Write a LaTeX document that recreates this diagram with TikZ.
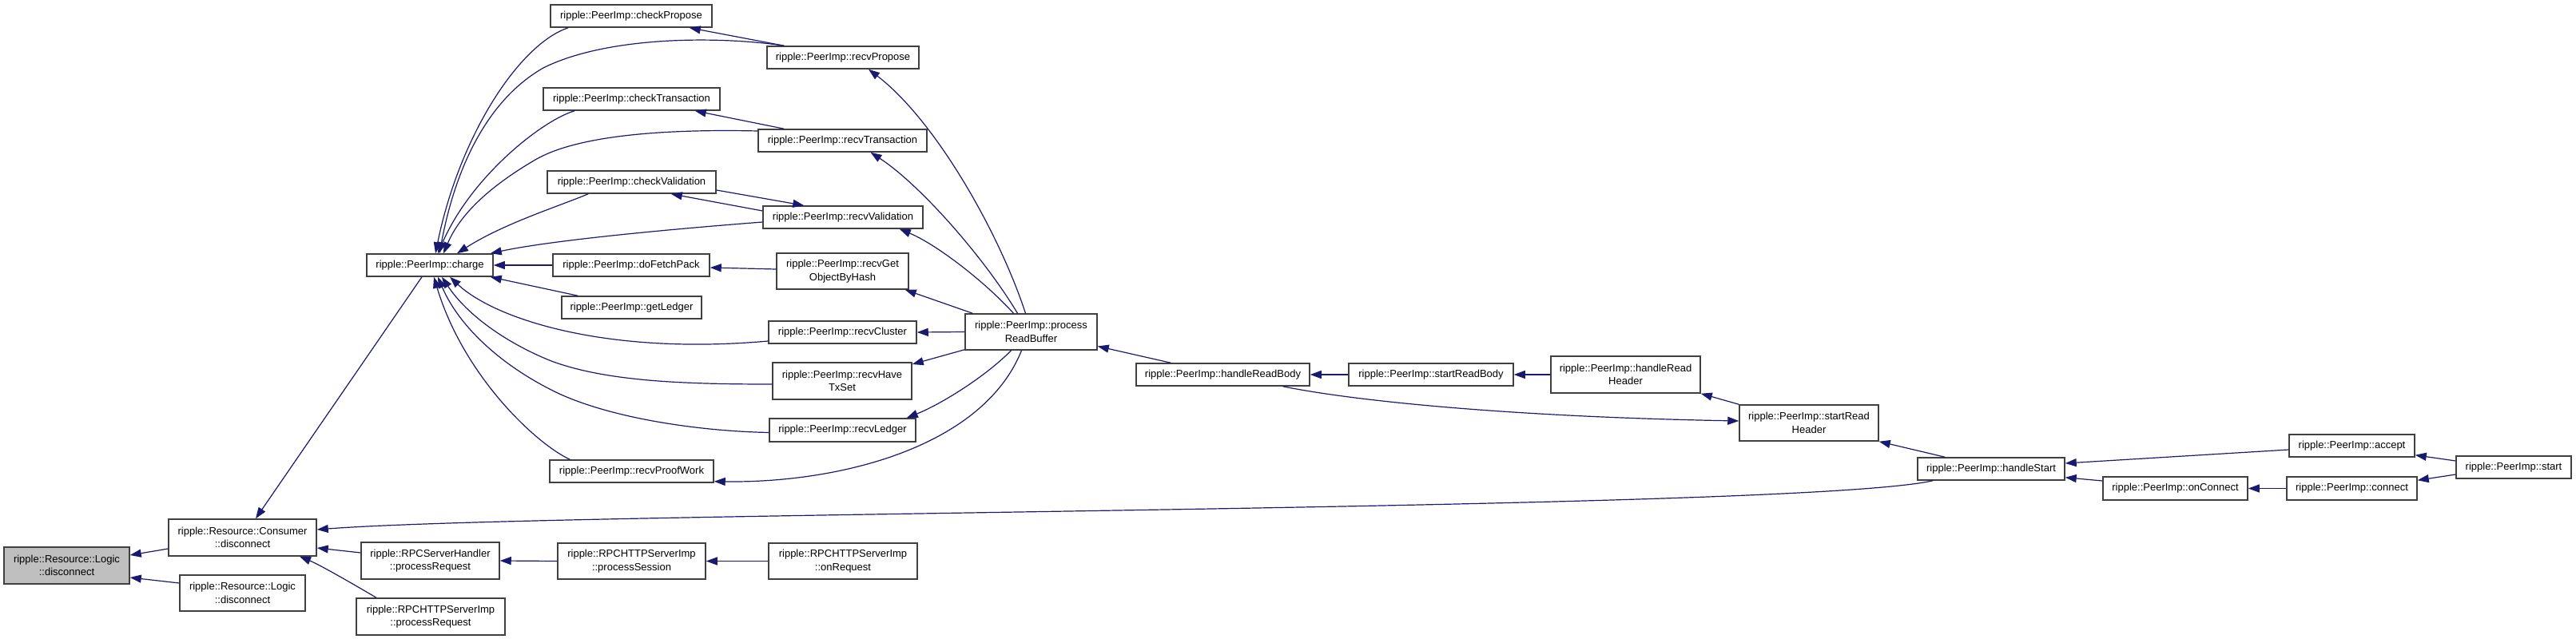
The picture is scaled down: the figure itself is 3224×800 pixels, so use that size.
\documentclass[tikz,border=0pt]{standalone}
\usepackage{fontspec}
\setmainfont{Liberation Sans}
\usetikzlibrary{arrows.meta,calc}
\definecolor{edgecol}{HTML}{191970}
\definecolor{bordercol}{HTML}{404040}
\definecolor{rootfill}{HTML}{BFBFBF}
\begin{document}
\begin{tikzpicture}[x=1pt,y=-1pt,
  fbox/.style={draw=bordercol, line width=1.5pt, fill=white, inner sep=0pt, align=center, font=\fontsize{13}{16.5}\selectfont},
  callarrow/.style={draw=edgecol, line width=1.2pt, -{Triangle[length=14pt,width=10pt]}}]
\fill[white] (0,0) rectangle (3224,800);
\useasboundingbox (0,0) rectangle (3224,800);
% nodes
\node[fbox, fill=rootfill, minimum width=157pt, minimum height=46pt] (root) at (83.5,708) {ripple::Resource::Logic\\::disconnect};
\node[fbox, minimum width=185pt, minimum height=46pt] (cons) at (303.5,673) {ripple::Resource::Consumer\\::disconnect};
\node[fbox, minimum width=157pt, minimum height=45pt] (logic2) at (303.5,742.5) {ripple::Resource::Logic\\::disconnect};
\node[fbox, minimum width=173pt, minimum height=46pt] (rpcsh) at (538.5,702) {ripple::RPCServerHandler\\::processRequest};
\node[fbox, minimum width=186pt, minimum height=46pt] (rpchp) at (539,772) {ripple::RPCHTTPServerImp\\::processRequest};
\node[fbox, minimum width=185pt, minimum height=45pt] (psess) at (790.5,702.5) {ripple::RPCHTTPServerImp\\::processSession};
\node[fbox, minimum width=186pt, minimum height=45pt] (onreq) at (1055,702.5) {ripple::RPCHTTPServerImp\\::onRequest};
\node[fbox, minimum width=158pt, minimum height=28pt] (charge) at (538,332) {ripple::PeerImp::charge};
\node[fbox, minimum width=202pt, minimum height=28pt] (chkprop) at (790,20) {ripple::PeerImp::checkPropose};
\node[fbox, minimum width=190pt, minimum height=28pt] (rcvprop) at (1055,72) {ripple::PeerImp::recvPropose};
\node[fbox, minimum width=221pt, minimum height=28pt] (chktx) at (790.5,124) {ripple::PeerImp::checkTransaction};
\node[fbox, minimum width=211pt, minimum height=28pt] (rcvtx) at (1054.5,176) {ripple::PeerImp::recvTransaction};
\node[fbox, minimum width=211pt, minimum height=28pt] (chkval) at (790.5,228) {ripple::PeerImp::checkValidation};
\node[fbox, minimum width=200pt, minimum height=28pt] (rcvval) at (1055,272) {ripple::PeerImp::recvValidation};
\node[fbox, minimum width=196pt, minimum height=28pt] (fetch) at (790,332) {ripple::PeerImp::doFetchPack};
\node[fbox, minimum width=165pt, minimum height=45pt] (getobj) at (1054.5,339.5) {ripple::PeerImp::recvGet\\ObjectByHash};
\node[fbox, minimum width=175pt, minimum height=28pt] (getledg) at (790.5,385) {ripple::PeerImp::getLedger};
\node[fbox, minimum width=185pt, minimum height=28pt] (cluster) at (1054.5,416) {ripple::PeerImp::recvCluster};
\node[fbox, minimum width=174pt, minimum height=46pt] (havetx) at (1054,477) {ripple::PeerImp::recvHave\\TxSet};
\node[fbox, minimum width=183pt, minimum height=29pt] (rledg) at (1054.5,538.5) {ripple::PeerImp::recvLedger};
\node[fbox, minimum width=205pt, minimum height=28pt] (proof) at (790.5,590) {ripple::PeerImp::recvProofWork};
\node[fbox, minimum width=165pt, minimum height=45pt] (prb) at (1290.5,415.5) {ripple::PeerImp::process\\ReadBuffer};
\node[fbox, minimum width=217pt, minimum height=28pt] (hrb) at (1530.5,469) {ripple::PeerImp::handleReadBody};
\node[fbox, minimum width=206pt, minimum height=28pt] (srb) at (1791,469) {ripple::PeerImp::startReadBody};
\node[fbox, minimum width=187pt, minimum height=46pt] (hrh) at (2034.5,469) {ripple::PeerImp::handleRead\\Header};
\node[fbox, minimum width=174pt, minimum height=45pt] (srh) at (2264,529.5) {ripple::PeerImp::startRead\\Header};
\node[fbox, minimum width=184pt, minimum height=28pt] (hstart) at (2492,587) {ripple::PeerImp::handleStart};
\node[fbox, minimum width=157pt, minimum height=28pt] (accept) at (2943.5,558) {ripple::PeerImp::accept};
\node[fbox, minimum width=181pt, minimum height=29pt] (onconn) at (2722.5,611.5) {ripple::PeerImp::onConnect};
\node[fbox, minimum width=163pt, minimum height=29pt] (connct) at (2943.5,611.5) {ripple::PeerImp::connect};
\node[fbox, minimum width=144pt, minimum height=28pt] (start) at (3146,585) {ripple::PeerImp::start};
% edges
\draw[callarrow] ($(cons.west)+(0,14)$) -- ($(root.east)+(0,-13)$);
\draw[callarrow] ($(logic2.west)+(0,-12.5)$) -- ($(root.east)+(0,15)$);
\draw[callarrow] ($(charge.south)+(-10,0)$) -- ($(cons.north)+(16.5,0)$);
\draw[callarrow] ($(rpcsh.west)+(0,-10)$) -- ($(cons.east)+(0,13)$);
\draw[callarrow] ($(rpchp.north)+(-68,0)$) .. controls (440,730) and (400,707) .. ($(cons.south)+(71.5,0)$);
\draw[callarrow] (psess.west) -- (rpcsh.east);
\draw[callarrow] (onreq.west) -- (psess.east);
\draw[callarrow] ($(hstart.south west)+(20,0)$) .. controls (2250,640) and (700,640) .. ($(cons.east)+(0,-10)$);
% into charge
\draw[callarrow] ($(chkprop.south west)+(23,0)$) .. controls (650,55) and (575,170) .. ($(charge.north)+(7,0)$);
\draw[callarrow] ($(rcvprop.north west)+(22,0)$) .. controls (900,45) and (760,45) .. (680,85) .. controls (610,125) and (570,210) .. ($(charge.north)+(12,0)$);
\draw[callarrow] ($(rcvprop.north west)+(22,0)$) -- ($(chkprop.south east)+(-29,0)$);
\draw[callarrow] ($(chktx.south west)+(40,0)$) .. controls (680,150) and (590,220) .. ($(charge.north)+(10,0)$);
\draw[callarrow] ($(rcvtx.west)+(0,-12)$) .. controls (860,162) and (730,165) .. (670,200) .. controls (610,235) and (575,270) .. ($(charge.north)+(17,0)$);
\draw[callarrow] ($(rcvtx.north west)+(33,0)$) -- ($(chktx.south east)+(-32,0)$);
\draw[callarrow] ($(chkval.south west)+(52,0)$) .. controls (700,258) and (630,280) .. ($(charge.north)+(34,0)$);
\draw[callarrow] ($(rcvval.west)+(0,-8)$) -- ($(chkval.south east)+(-57,0)$);
\draw[callarrow] ($(chkval.east)+(0,10)$) -- ($(rcvval.north west)+(52,0)$);
\draw[callarrow] ($(rcvval.west)+(0,6)$) .. controls (800,290) and (680,303) .. ($(charge.north east)+(-4,0)$);
\draw[callarrow] (fetch.west) -- (charge.east);
\draw[callarrow] ($(getobj.west)+(0,-2.5)$) -- ($(fetch.east)+(0,3)$);
\draw[callarrow] ($(getledg.north west)+(21,0)$) -- ($(charge.south east)+(-4,0)$);
\draw[callarrow] ($(cluster.west)+(0,11)$) .. controls (760,445) and (620,400) .. ($(charge.south)+(25,0)$);
\draw[callarrow] ($(havetx.west)+(0,4)$) .. controls (860,481) and (760,478) .. (690,452) .. controls (635,430) and (585,395) .. ($(charge.south)+(15,0)$);
\draw[callarrow] ($(rledg.west)+(0,3)$) .. controls (880,540) and (770,525) .. (700,493) .. controls (630,460) and (575,410) .. ($(charge.south)+(10,0)$);
\draw[callarrow] ($(proof.north west)+(26,0)$) .. controls (670,555) and (580,470) .. ($(charge.south)+(5,0)$);
% from processReadBuffer
\draw[callarrow] ($(prb.north)+(-7,0)$) .. controls (1250,290) and (1170,150) .. ($(rcvprop.south)+(32,0)$);
\draw[callarrow] ($(prb.north)+(-17,0)$) .. controls (1230,320) and (1150,230) .. ($(rcvtx.south)+(35,0)$);
\draw[callarrow] ($(prb.north)+(-22,0)$) .. controls (1230,350) and (1170,305) .. ($(rcvval.south east)+(-30,0)$);
\draw[callarrow] ($(prb.north west)+(10,0)$) -- ($(getobj.south east)+(-5,0)$);
\draw[callarrow] (prb.west) -- (cluster.east);
\draw[callarrow] ($(prb.south west)+(0,-1)$) -- ($(havetx.east)+(0,-21)$);
\draw[callarrow] ($(prb.south)+(-25,0)$) .. controls (1235,470) and (1180,505) .. ($(rledg.north east)+(-12,0)$);
\draw[callarrow] ($(prb.south)+(-12,0)$) .. controls (1230,560) and (1050,605) .. ($(proof.south east)+(0,-2)$);
% right part
\draw[callarrow] ($(hrb.north west)+(44,0)$) -- ($(prb.east)+(0,18)$);
\draw[callarrow] (srb.west) -- (hrb.east);
\draw[callarrow] (hrh.west) -- (srb.east);
\draw[callarrow] (srh.north west) -- (hrh.south east);
\draw[callarrow] ($(hrb.south)+(75,0)$) .. controls (1700,503) and (1900,522) .. ($(srh.west)+(0,-2.5)$);
\draw[callarrow] ($(hstart.north west)+(35,0)$) -- (srh.south east);
\draw[callarrow] ($(accept.west)+(0,5)$) -- ($(hstart.east)+(0,-7)$);
\draw[callarrow] ($(onconn.west)+(0,-9.5)$) -- ($(hstart.south east)+(0,-4)$);
\draw[callarrow] (connct.west) -- (onconn.east);
\draw[callarrow] ($(start.west)+(0,-8)$) -- ($(accept.south east)+(0,-3)$);
\draw[callarrow] ($(start.west)+(0,9)$) -- ($(connct.north east)+(0,5)$);
\end{tikzpicture}
\end{document}
